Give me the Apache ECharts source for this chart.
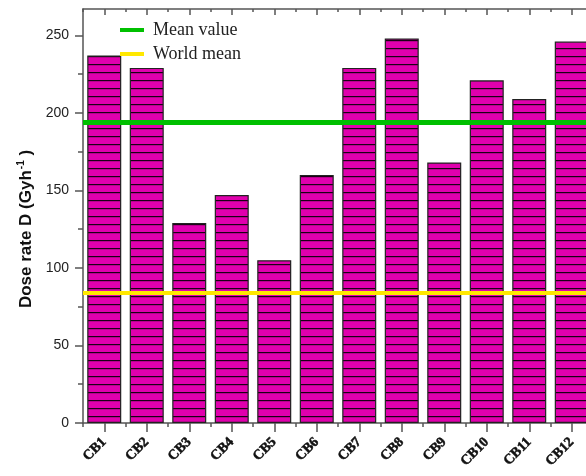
<!DOCTYPE html>
<html>
<head>
<meta charset="utf-8">
<script src="https://cdn.jsdelivr.net/npm/echarts@6/dist/echarts.min.js"></script>
<style>html,body{margin:0;padding:0;background:#fff;}#c{width:586px;height:476px;}</style>
</head>
<body>
<div id="c"></div>
<script>
const categories = ['CB1','CB2','CB3','CB4','CB5','CB6','CB7','CB8','CB9','CB10','CB11','CB12'];
const doseRate = [237, 229, 129, 147, 105, 160, 229, 248, 168, 221, 209, 246];
const meanValue = 194;
const worldMean = 84;
const yTickValues = [0, 50, 100, 150, 200, 250];

// hatch pattern: magenta with horizontal black lines
const pat = document.createElement('canvas');
pat.width = 8; pat.height = 8;
const pctx = pat.getContext('2d');
pctx.fillStyle = '#e000ad';
pctx.fillRect(0, 0, 8, 8);
pctx.fillStyle = '#1a0015';
pctx.fillRect(0, 0, 8, 1.2);

const axisColor = '#555';
const chart = echarts.init(document.getElementById('c'), null, {renderer: 'canvas'});

function xAx(pos, showLabel, align, len, inside, showLine) {
  return {
    type: 'category', data: categories, position: pos,
    axisLine: {show: showLine, onZero: false, lineStyle: {color: axisColor, width: 1.5}},
    axisTick: {show: true, alignWithLabel: align, length: len, inside: inside, lineStyle: {color: axisColor, width: 1.5}},
    axisLabel: showLabel ? {
      show: true, rotate: 45, margin: 17, interval: 0, hideOverlap: false,
      fontFamily: 'Liberation Serif', fontWeight: 900, fontSize: 14, color: '#111',
      textBorderColor: '#111', textBorderWidth: 0.5
    } : {show: false},
    splitLine: {show: false}
  };
}

chart.setOption({
  animation: false,
  grid: {left: 83, width: 510, top: 9, bottom: 53, containLabel: false, outerBoundsMode: 'none'},
  legend: {
    data: ['Mean value', 'World mean'],
    orient: 'vertical', left: 115, top: 16,
    icon: 'rect', itemWidth: 24, itemHeight: 4, itemGap: 6,
    textStyle: {fontFamily: 'Liberation Serif', fontSize: 18, color: '#222', lineHeight: 18, padding: [0, 0, 0, 4]}
  },
  xAxis: [
    xAx('bottom', true, true, 9, false, true),
    xAx('bottom', false, false, 4, false, false),
    xAx('top', false, true, 6, true, true),
    xAx('top', false, false, 3, true, false)
  ],
  yAxis: {
    type: 'value', min: 0, max: 267, interval: 50,
    name: '{a|Dose rate D (Gyh}{s|-1}{a| )}',
    nameLocation: 'middle', nameGap: 46, nameRotate: 90,
    nameTextStyle: {
      padding: [0, 26, 0, 0],
      rich: {
        a: {fontFamily: 'Liberation Sans', fontWeight: 'bold', fontSize: 17, color: '#111'},
        s: {fontFamily: 'Liberation Sans', fontWeight: 'bold', fontSize: 10, color: '#111', verticalAlign: 'top', padding: [0, 0, 9, 1]}
      }
    },
    axisLine: {show: true, lineStyle: {color: axisColor, width: 1.5}},
    axisTick: {show: true, length: 8, customValues: yTickValues, lineStyle: {color: axisColor, width: 1.5}},
    minorTick: {show: true, splitNumber: 2, length: 5, lineStyle: {color: axisColor, width: 1.5}},
    axisLabel: {customValues: yTickValues, margin: 14, fontFamily: 'Liberation Sans', fontSize: 14, color: '#222'},
    splitLine: {show: false}
  },
  series: [
    {
      type: 'bar', data: doseRate, barWidth: 34, xAxisIndex: 0,
      itemStyle: {color: {image: pat, repeat: 'repeat'}, borderColor: '#222', borderWidth: 1.2}
    },
    {
      name: 'Mean value', type: 'line', data: [], color: '#00c000',
      markLine: {silent: true, symbol: 'none', label: {show: false},
        lineStyle: {color: '#00c000', width: 5, type: 'solid'}, data: [{yAxis: meanValue}]}
    },
    {
      name: 'World mean', type: 'line', data: [], color: '#ffe800',
      markLine: {silent: true, symbol: 'none', label: {show: false},
        lineStyle: {color: '#ffe800', width: 4, type: 'solid'}, data: [{yAxis: worldMean}]}
    }
  ]
});
</script>
</body>
</html>
